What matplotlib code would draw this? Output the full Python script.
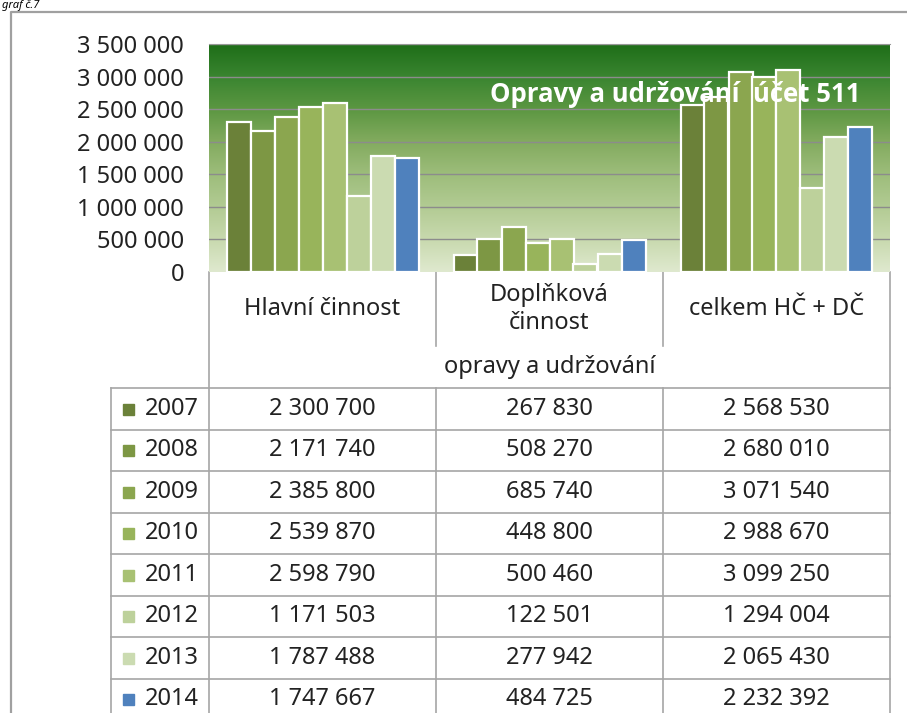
import numpy as np
import matplotlib.pyplot as plt
from matplotlib.colors import LinearSegmentedColormap
from matplotlib.patches import Rectangle

plt.rcParams['font.family'] = ['Noto Sans', 'DejaVu Sans']

# --- data ---
categories = ['Hlavní činnost', 'Doplňková\nčinnost', 'celkem HČ + DČ']
years = ['2007', '2008', '2009', '2010', '2011', '2012', '2013', '2014']
hlavni = [2300700, 2171740, 2385800, 2539870, 2598790, 1171503, 1787488, 1747667]
doplnkova = [267830, 508270, 685740, 448800, 500460, 122501, 277942, 484725]
celkem = [2568530, 2680010, 3071540, 2988670, 3099250, 1294004, 2065430, 2232392]
yticks = [0, 500000, 1000000, 1500000, 2000000, 2500000, 3000000, 3500000]
colors = ['#6b8139', '#7d9744', '#8ba64f', '#98b45b', '#a8c173', '#bdd19b', '#cbdbb1', '#4f81bd']
title = 'Opravy a udržování  účet 511'
group_label = 'opravy a udržování'

series = [hlavni, doplnkova, celkem]


def fmt(v):
    return f'{v:,}'.replace(',', ' ')


W, H = 907, 713
FS = 17
TXT = '#222222'
fig = plt.figure(figsize=(W / 100, H / 100), dpi=100)

# overlay in pixel coords for frame + table
ov = fig.add_axes([0, 0, 1, 1])
ov.set_xlim(0, W)
ov.set_ylim(H, 0)
ov.axis('off')

# plot area
px0, px1, py0, py1 = 209, 890, 44, 272
ax = fig.add_axes([px0 / W, 1 - py1 / H, (px1 - px0) / W, (py1 - py0) / H])
ax.set_xlim(-0.5, 2.5)
ax.set_ylim(0, 3500000)

grad = LinearSegmentedColormap.from_list('g', [
    (0.0, '#dfe9cf'), (0.143, '#c8d9ae'), (0.286, '#b2cb93'), (0.429, '#9dbd7b'),
    (0.571, '#83ab5f'), (0.714, '#5c9742'), (0.857, '#3a8530'), (1.0, '#1e6e18')])
ax.imshow(np.linspace(0, 1, 256).reshape(-1, 1), cmap=grad, aspect='auto',
          extent=[-0.5, 2.5, 0, 3500000], origin='lower', zorder=0)

for t in yticks[1:]:
    ax.axhline(t, color='#8c8c8c', lw=1, zorder=1)

ax.text(1.553, 2720000, title, color='white', fontsize=18.5, fontweight='bold',
        family=['Open Sans', 'DejaVu Sans'], ha='center', va='center', zorder=5)

bw = 24 / 227
x = np.arange(len(categories))
for i, yr in enumerate(years):
    vals = [s[i] for s in series]
    ax.bar(x + (i - 3.5) * bw, vals, bw, color=colors[i], edgecolor='white',
           linewidth=1.6, zorder=3)

ax.set_xticks([])
ax.set_yticks(yticks)
ax.set_yticklabels([fmt(t) for t in yticks], fontsize=FS, color=TXT)
ax.tick_params(axis='y', length=0, pad=18)
for sp in ax.spines.values():
    sp.set_visible(False)
ax.spines['top'].set_visible(True)
ax.spines['top'].set_color('#999999')

# outer chart frame
lc = '#a0a0a0'
ov.plot([11, 11, W + 5], [H + 5, 12, 12], color=lc, lw=1.6)
ov.text(2, 0, 'graf č.7', fontsize=8, style='italic', va='top', ha='left')

# data table
gl = '#a6a6a6'
col_x = [209, 436, 663, 890]
row_top = 388
row_h = 41.5
# header
ov.plot([209, 209], [272, H + 5], color=gl, lw=1.2)
ov.plot([890, 890], [272, H + 5], color=gl, lw=1.2)
for cx in col_x[1:3]:
    ov.plot([cx, cx], [272, 346], color=gl, lw=1.2)
    ov.plot([cx, cx], [row_top, H + 5], color=gl, lw=1.2)
ov.plot([111, 111], [row_top, H + 5], color=gl, lw=1.2)
for j, cat in enumerate(categories):
    ov.text((col_x[j] + col_x[j + 1]) / 2, 309, cat, fontsize=FS, ha='center',
            va='center', color=TXT, linespacing=1.2)
ov.text((209 + 890) / 2, 367, group_label, fontsize=FS, ha='center',
        va='center', color=TXT)

for i, yr in enumerate(years):
    yt = row_top + i * row_h
    ov.plot([111, 890], [yt, yt], color=gl, lw=1.2)
    yc = yt + row_h / 2
    ov.add_patch(Rectangle((123, yc - 5), 11, 11, color=colors[i]))
    ov.text(145, yc, yr, fontsize=FS, ha='left', va='center', color=TXT)
    for j, s in enumerate(series):
        ov.text((col_x[j] + col_x[j + 1]) / 2, yc, fmt(s[i]), fontsize=FS,
                ha='center', va='center', color=TXT)

fig.savefig('out.png', dpi=100)
